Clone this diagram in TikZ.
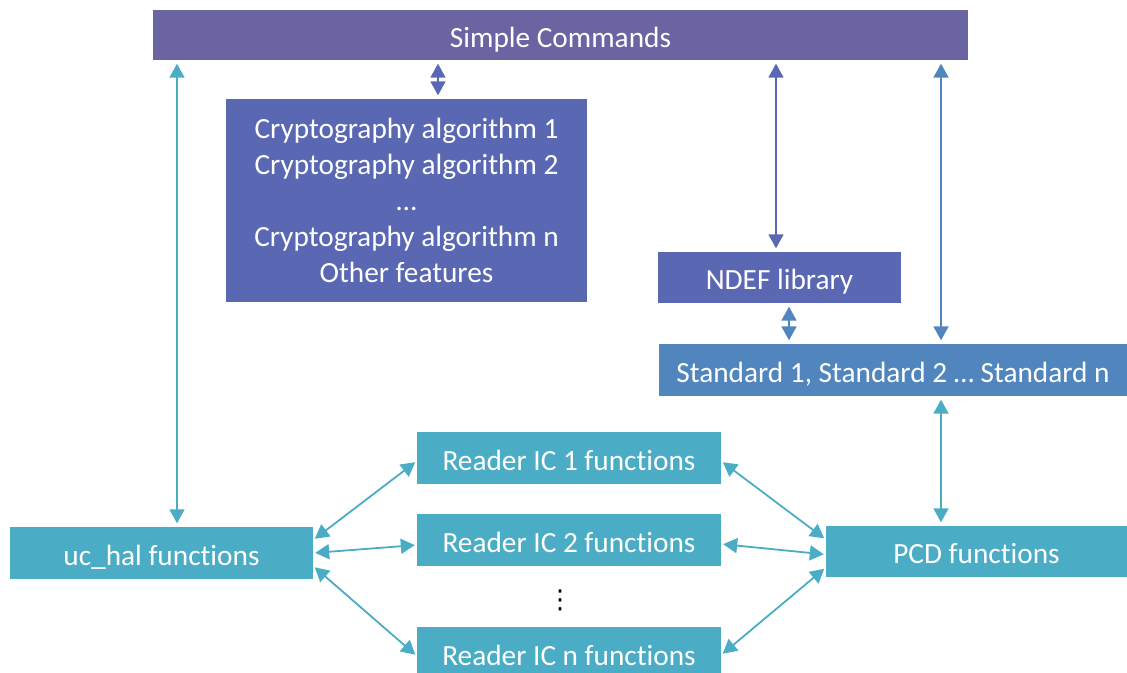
\documentclass[tikz,border=0pt]{standalone}
\usepackage{fontspec}
\setmainfont{Carlito}[Ligatures=NoCommon]
\newfontfamily\symfont{DejaVu Sans}
\usetikzlibrary{arrows.meta}
\definecolor{cmdpurple}{HTML}{6A64A2}
\definecolor{libblue}{HTML}{5A68B4}
\definecolor{stdblue}{HTML}{5085BE}
\definecolor{teal}{HTML}{4BACC6}
\tikzset{
  blk/.style={fill=#1, text=white, inner sep=0pt, align=center,
    font=\fontsize{29.3}{36}\selectfont},
  oneline/.style={text height=24pt, text depth=0pt},
  link/.style={draw=#1, line width=1.8pt,
    {Triangle[width=15pt,length=14pt]}-{Triangle[width=15pt,length=14pt]},
    shorten <=3.5pt, shorten >=3.5pt},
}
\begin{document}
\begin{tikzpicture}[x=1pt,y=-1pt]
\useasboundingbox (0,0) rectangle (1127,672);

% blocks
\node[blk=cmdpurple, oneline, minimum width=815pt, minimum height=50pt] (sc) at (560.5,35) {Simple Commands};
\node[blk=libblue, minimum width=361pt, minimum height=203pt] (crypto) at (406.5,200.5)
  {Cryptography algorithm 1\\Cryptography algorithm 2\\…\\Cryptography algorithm n\\Other features};
\node[blk=libblue, oneline, minimum width=243pt, minimum height=51pt] (ndef) at (779.5,277.5) {NDEF library};
\node[blk=stdblue, oneline, minimum width=468pt, minimum height=52pt] (std) at (893,370) {Standard 1, Standard 2 … Standard n};
\node[blk=teal, oneline, minimum width=304pt, minimum height=52pt] (ric1) at (569,458) {Reader IC 1 functions};
\node[blk=teal, oneline, minimum width=304pt, minimum height=52pt] (ric2) at (569,540) {Reader IC 2 functions};
\node[blk=teal, oneline, minimum width=304pt, minimum height=52pt] (ricn) at (569,653) {Reader IC n functions};
\node[blk=teal, oneline, minimum width=303pt, minimum height=52pt] (uc) at (161.5,553) {uc\_hal functions};
\node[blk=teal, oneline, minimum width=301pt, minimum height=51pt] (pcd) at (976.5,551.5) {PCD functions};
\node[font=\symfont\fontsize{26}{30}\selectfont] (dots) at (560,600) {⋮};

% columns of the vertical links
\coordinate (xuc) at (177,0);
\coordinate (xcr) at (438,0);
\coordinate (xnd) at (776,0);
\coordinate (xst) at (941,0);
\coordinate (xns) at (789,0);

% vertical links
\draw[link=teal] (sc.south -| xuc) -- (uc.north -| xuc);
\draw[link=libblue] (sc.south -| xcr) -- (crypto.north -| xcr);
\draw[link=libblue] (sc.south -| xnd) -- (ndef.north -| xnd);
\draw[link=stdblue] (sc.south -| xst) -- (std.north -| xst);
\draw[link=stdblue] (ndef.south -| xns) -- (std.north -| xns);
\draw[link=teal] (std.south -| xst) -- (pcd.north -| xst);

% reader IC links
\draw[link=teal, shorten <=2pt, shorten >=2pt] ([yshift=13pt]uc.east) -- ([yshift=-3pt]ric1.west);
\draw[link=teal, shorten <=2pt, shorten >=2pt] (uc.east) -- ([yshift=-5pt]ric2.west);
\draw[link=teal, shorten <=2pt, shorten >=2pt] ([yshift=-13pt]uc.east) -- ([yshift=-3pt]ricn.west);
\draw[link=teal, shorten <=2pt, shorten >=2pt] ([yshift=-3pt]ric1.east) -- ([yshift=12pt]pcd.west);
\draw[link=teal, shorten <=2pt, shorten >=2pt] ([yshift=-4pt]ric2.east) -- ([yshift=-3pt]pcd.west);
\draw[link=teal, shorten <=2pt, shorten >=2pt] ([yshift=-2pt]ricn.east) -- ([yshift=-16pt]pcd.west);
\end{tikzpicture}
\end{document}
